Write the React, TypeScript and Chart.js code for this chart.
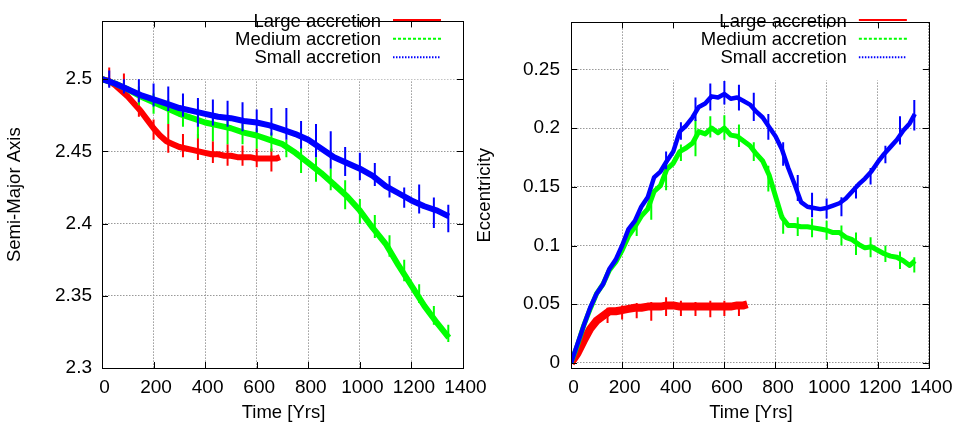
import React, { useEffect, useRef } from "react";
import { Chart, registerables } from "chart.js";

Chart.register(...registerables);

// ---------- data ----------
const timeLarge = [0, 25, 50, 75, 100, 125, 150, 175, 200, 225, 250, 275, 300, 325, 350, 375, 400, 425, 450, 475, 500, 525, 550, 575, 600, 625, 650, 675, 690];
const timeLong = [0, 50, 100, 150, 200, 250, 300, 350, 400, 450, 500, 550, 600, 650, 700, 750, 800, 850, 900, 950, 1000, 1050, 1100, 1150, 1200, 1250, 1300, 1345];
const timeEcc = [0, 25, 50, 75, 100, 125, 150, 175, 200, 225, 250, 275, 300, 325, 350, 375, 400, 425, 450, 475, 500, 525, 550, 575, 600, 625, 650, 675, 700, 725, 750, 775, 800, 825, 850, 875, 900, 925, 950, 975, 1000, 1025, 1050, 1075, 1100, 1125, 1150, 1175, 1200, 1225, 1250, 1275, 1300, 1325, 1345];

// Semi-major axis
const axisLarge = [2.5, 2.499, 2.496, 2.492, 2.488, 2.483, 2.478, 2.472, 2.466, 2.461, 2.457, 2.455, 2.453, 2.452, 2.451, 2.45, 2.449, 2.448, 2.448, 2.447, 2.447, 2.446, 2.446, 2.446, 2.445, 2.445, 2.445, 2.445, 2.446];
const axisMedium = [2.5, 2.497, 2.493, 2.488, 2.484, 2.48, 2.476, 2.473, 2.47, 2.468, 2.466, 2.463, 2.461, 2.458, 2.455, 2.449, 2.442, 2.435, 2.427, 2.419, 2.409, 2.397, 2.386, 2.371, 2.357, 2.343, 2.331, 2.321];
const axisSmall = [2.5, 2.497, 2.493, 2.489, 2.486, 2.483, 2.48, 2.478, 2.476, 2.474, 2.473, 2.471, 2.47, 2.468, 2.465, 2.462, 2.458, 2.452, 2.446, 2.442, 2.438, 2.433, 2.426, 2.421, 2.416, 2.412, 2.409, 2.405];

// spikes: [time, low, high]
const axisLargeSpikes = [
  [28, 2.495, 2.508], [85, 2.489, 2.504], [143, 2.474, 2.488], [200, 2.458, 2.472],
  [257, 2.449, 2.469], [314, 2.446, 2.462], [372, 2.444, 2.462], [430, 2.442, 2.457],
  [487, 2.44, 2.455], [545, 2.44, 2.454], [600, 2.439, 2.452], [657, 2.436, 2.452],
];
const axisMediumSpikes = [
  [143, 2.482, 2.495], [200, 2.476, 2.49], [257, 2.469, 2.486], [314, 2.467, 2.482],
  [372, 2.459, 2.479], [430, 2.457, 2.474], [487, 2.455, 2.471], [545, 2.455, 2.469],
  [600, 2.452, 2.466], [657, 2.45, 2.463], [715, 2.446, 2.458], [772, 2.435, 2.453],
  [830, 2.429, 2.446], [887, 2.423, 2.438], [943, 2.41, 2.43], [1000, 2.4, 2.417],
  [1058, 2.39, 2.406], [1115, 2.377, 2.392], [1172, 2.36, 2.375], [1230, 2.345, 2.358],
  [1287, 2.33, 2.343], [1343, 2.318, 2.33],
];
const axisSmallSpikes = [
  [28, 2.494, 2.506], [85, 2.49, 2.5], [143, 2.484, 2.5], [200, 2.481, 2.497],
  [257, 2.478, 2.495], [314, 2.474, 2.49], [372, 2.467, 2.487], [430, 2.468, 2.486],
  [487, 2.467, 2.485], [545, 2.464, 2.484], [600, 2.463, 2.479], [657, 2.461, 2.48],
  [715, 2.458, 2.48], [772, 2.452, 2.471], [830, 2.446, 2.469], [887, 2.438, 2.464],
  [943, 2.433, 2.453], [1000, 2.43, 2.449], [1058, 2.426, 2.442], [1115, 2.418, 2.433],
  [1172, 2.411, 2.425], [1230, 2.407, 2.427], [1287, 2.397, 2.418], [1343, 2.394, 2.413],
];

// Eccentricity
const eccLarge = [0, 0.008, 0.019, 0.029, 0.036, 0.04, 0.044, 0.044, 0.045, 0.046, 0.047, 0.047, 0.048, 0.048, 0.048, 0.049, 0.049, 0.048, 0.048, 0.048, 0.048, 0.048, 0.048, 0.048, 0.048, 0.048, 0.049, 0.049, 0.05];
const eccMedium = [0, 0.015, 0.032, 0.046, 0.059, 0.067, 0.079, 0.086, 0.096, 0.108, 0.116, 0.125, 0.131, 0.146, 0.151, 0.165, 0.17, 0.18, 0.183, 0.187, 0.197, 0.195, 0.2, 0.196, 0.2, 0.194, 0.193, 0.189, 0.185, 0.178, 0.172, 0.16, 0.142, 0.124, 0.117, 0.117, 0.116, 0.116, 0.115, 0.114, 0.113, 0.111, 0.111, 0.107, 0.105, 0.101, 0.098, 0.099, 0.096, 0.093, 0.091, 0.09, 0.087, 0.083, 0.087];
const eccSmall = [0, 0.016, 0.032, 0.047, 0.059, 0.067, 0.08, 0.088, 0.1, 0.114, 0.121, 0.133, 0.141, 0.158, 0.163, 0.172, 0.18, 0.197, 0.202, 0.209, 0.218, 0.221, 0.227, 0.226, 0.229, 0.225, 0.226, 0.223, 0.22, 0.214, 0.209, 0.201, 0.193, 0.182, 0.166, 0.152, 0.137, 0.133, 0.132, 0.131, 0.132, 0.134, 0.136, 0.14, 0.146, 0.152, 0.157, 0.163, 0.171, 0.178, 0.184, 0.19, 0.198, 0.204, 0.212];

const eccLargeSpikes = [
  [143, 0.034, 0.047], [200, 0.037, 0.049], [257, 0.038, 0.051], [314, 0.036, 0.052],
  [372, 0.04, 0.056], [430, 0.04, 0.053], [487, 0.04, 0.052], [545, 0.039, 0.053],
  [600, 0.04, 0.053], [657, 0.04, 0.052],
];
const eccMediumSpikes = [
  [257, 0.108, 0.122], [314, 0.122, 0.137], [372, 0.147, 0.172], [430, 0.172, 0.186],
  [487, 0.176, 0.207], [545, 0.192, 0.21], [600, 0.19, 0.211], [657, 0.184, 0.203],
  [715, 0.172, 0.188], [772, 0.146, 0.168], [830, 0.11, 0.126], [887, 0.108, 0.124],
  [943, 0.107, 0.123], [1000, 0.105, 0.121], [1058, 0.1, 0.117], [1115, 0.092, 0.111],
  [1172, 0.09, 0.107], [1230, 0.086, 0.1], [1287, 0.08, 0.095], [1343, 0.077, 0.09],
];
const eccSmallSpikes = [
  [372, 0.165, 0.18], [430, 0.19, 0.205], [487, 0.206, 0.226], [545, 0.215, 0.238],
  [600, 0.22, 0.24], [657, 0.215, 0.237], [715, 0.206, 0.23], [772, 0.19, 0.212],
  [830, 0.168, 0.188], [887, 0.138, 0.16], [943, 0.124, 0.145], [1000, 0.123, 0.14],
  [1058, 0.125, 0.141], [1115, 0.14, 0.152], [1172, 0.152, 0.166], [1230, 0.17, 0.185],
  [1287, 0.186, 0.21], [1343, 0.198, 0.224],
];

const seriesNames = ["Large accretion", "Medium accretion", "Small accretion"];
const seriesColors = ["#ff0000", "#00ff00", "#0000ff"];
const xTicks = [0, 200, 400, 600, 800, 1000, 1200, 1400];
const axisTicks = [2.3, 2.35, 2.4, 2.45, 2.5];
const eccTicks = [0, 0.05, 0.1, 0.15, 0.2, 0.25];
const xTitle = "Time [Yrs]";
const axisTitle = "Semi-Major Axis";
const eccTitle = "Eccentricity";

// ---------- helpers ----------
const FONT = '"Liberation Sans", Arial, Helvetica, sans-serif';

function pts(t: number[], v: number[]) {
  return t.map((x, i) => ({ x, y: v[i] }));
}
function spikePts(s: number[][]) {
  const out: any[] = [];
  s.forEach(([x, lo, hi]) => {
    out.push({ x, y: lo }, { x, y: hi }, { x, y: null });
  });
  return out;
}

const gnuplotFrame = {
  id: "gnuplotFrame",
  beforeDatasetsDraw(chart: any, _args: any, opts: any) {
    const { ctx, chartArea: a } = chart;
    const textRight = a.right - opts.legendOffset;
    ctx.save();
    ctx.fillStyle = "#ffffff";
    ctx.fillRect(textRight - 178, a.top + 1, 254, 57);
    ctx.restore();
  },
  afterDraw(chart: any, _args: any, opts: any) {
    const { ctx, chartArea: a } = chart;
    const xs = chart.scales.x;
    const ys = chart.scales.y;
    ctx.save();
    // frame
    ctx.strokeStyle = "#000";
    ctx.lineWidth = 1;
    ctx.setLineDash([]);
    ctx.strokeRect(Math.round(a.left) + 0.5, Math.round(a.top) + 0.5, Math.round(a.right - a.left), Math.round(a.bottom - a.top));
    // inward ticks
    ctx.beginPath();
    xTicks.forEach((v) => {
      const px = Math.round(xs.getPixelForValue(v)) + 0.5;
      ctx.moveTo(px, a.bottom);
      ctx.lineTo(px, a.bottom - 6);
      ctx.moveTo(px, a.top);
      ctx.lineTo(px, a.top + 6);
    });
    (opts.yTicks as number[]).forEach((v) => {
      const py = Math.round(ys.getPixelForValue(v)) + 0.5;
      ctx.moveTo(a.left, py);
      ctx.lineTo(a.left + 6, py);
      ctx.moveTo(a.right, py);
      ctx.lineTo(a.right - 6, py);
    });
    ctx.stroke();

    // legend
    ctx.font = `18.5px ${FONT}`;
    ctx.fillStyle = "#000";
    ctx.textAlign = "right";
    ctx.textBaseline = "alphabetic";
    const textRight = a.right - opts.legendOffset;
    const baselines = [26.7, 45, 63.3];
    const lines = [20, 38.7, 57.3];
    const dashes = [[], [3, 2], [1.5, 1.5]];
    seriesNames.forEach((name, i) => {
      ctx.fillText(name, textRight, baselines[i]);
      ctx.strokeStyle = seriesColors[i];
      ctx.lineWidth = 2;
      ctx.setLineDash(dashes[i]);
      ctx.beginPath();
      ctx.moveTo(textRight + 12, lines[i]);
      ctx.lineTo(textRight + 60, lines[i]);
      ctx.stroke();
    });
    ctx.setLineDash([]);

    // axis titles
    ctx.textAlign = "center";
    ctx.textBaseline = "middle";
    ctx.fillStyle = "#000";
    ctx.fillText(xTitle, (a.left + a.right) / 2 + 1, 413);
    ctx.translate(opts.yTitleX, (a.top + a.bottom) / 2);
    ctx.rotate(-Math.PI / 2);
    ctx.fillText(opts.yTitle, 0, 0);
    ctx.restore();
  },
};

function makeConfig(p: {
  sets: { main: any[]; spikes: any[] }[];
  widths: number[];
  yMin: number;
  yMax: number;
  yTicks: number[];
  yWidth: number;
  padRight: number;
  yTitle: string;
  yTitleX: number;
  tickPad: number;
}): any {
  const datasets: any[] = [];
  // Small drawn last (on top): Chart.js draws dataset index 0 last
  [2, 1, 0].forEach((i) => {
    datasets.push({
      data: p.sets[i].spikes,
      borderColor: seriesColors[i],
      borderWidth: 2,
      pointRadius: 0,
      spanGaps: false,
      fill: false,
    });
    datasets.push({
      data: p.sets[i].main,
      borderColor: seriesColors[i],
      borderWidth: p.widths[i],
      borderJoinStyle: "round",
      borderCapStyle: "butt",
      pointRadius: 0,
      tension: 0,
      fill: false,
    });
  });
  const font = { family: FONT, size: 19 };
  return {
    type: "line",
    data: { datasets },
    plugins: [gnuplotFrame],
    options: {
      animation: false,
      responsive: false,
      devicePixelRatio: 1,
      layout: { padding: { top: 7, right: p.padRight, left: 0, bottom: 0 } },
      plugins: {
        legend: { display: false },
        tooltip: { enabled: false },
        gnuplotFrame: { yTicks: p.yTicks, legendOffset: 82, yTitle: p.yTitle, yTitleX: p.yTitleX },
      },
      scales: {
        x: {
          type: "linear",
          min: 0,
          max: 1400,
          afterBuildTicks: (s: any) => {
            s.ticks = xTicks.map((v) => ({ value: v }));
          },
          afterFit: (s: any) => {
            s.height = 58;
          },
          ticks: { autoSkip: false, maxRotation: 0, padding: 8, labelOffset: 2.5, color: "#000", font, callback: (v: any) => String(v) },
          grid: { color: "#999999", lineWidth: 1, drawTicks: false },
          border: { display: false, dash: [1.5, 1.5] },
        },
        y: {
          type: "linear",
          min: p.yMin,
          max: p.yMax,
          afterBuildTicks: (s: any) => {
            s.ticks = p.yTicks.map((v) => ({ value: v }));
          },
          afterFit: (s: any) => {
            s.width = p.yWidth;
          },
          ticks: { autoSkip: false, padding: p.tickPad, color: "#000", font, callback: (v: any) => String(v) },
          grid: { color: "#999999", lineWidth: 1, drawTicks: false },
          border: { display: false, dash: [1.5, 1.5] },
        },
      },
    },
  };
}

function ChartCanvas({ build }: { build: () => any }) {
  const ref = useRef<HTMLCanvasElement | null>(null);
  useEffect(() => {
    const c = new Chart(ref.current as HTMLCanvasElement, build());
    return () => c.destroy();
  }, []);
  return (
    <canvas
      ref={ref}
      width={958}
      height={426}
      style={{ position: "absolute", left: 0, top: 0, width: 958, height: 426 }}
    />
  );
}

const buildLeft = () =>
  makeConfig({
    sets: [
      { main: pts(timeLarge, axisLarge), spikes: spikePts(axisLargeSpikes) },
      { main: pts(timeLong, axisMedium), spikes: spikePts(axisMediumSpikes) },
      { main: pts(timeLong, axisSmall), spikes: spikePts(axisSmallSpikes) },
    ],
    widths: [6, 6, 6],
    yMin: 2.3,
    yMax: 2.54,
    yTicks: axisTicks,
    yWidth: 102,
    padRight: 958 - 463,
    yTitle: axisTitle,
    yTitleX: 15,
    tickPad: 10,
  });

const buildRight = () =>
  makeConfig({
    sets: [
      { main: pts(timeLarge, eccLarge), spikes: spikePts(eccLargeSpikes) },
      { main: pts(timeEcc, eccMedium), spikes: spikePts(eccMediumSpikes) },
      { main: pts(timeEcc, eccSmall), spikes: spikePts(eccSmallSpikes) },
    ],
    widths: [8, 5, 4.5],
    yMin: -0.0043,
    yMax: 0.29,
    yTicks: eccTicks,
    yWidth: 571,
    padRight: 26,
    yTitle: eccTitle,
    yTitleX: 485,
    tickPad: 11,
  });

export default function App() {
  return (
    <div style={{ position: "fixed", left: 0, top: 0, width: 958, height: 426, background: "#ffffff" }}>
      <ChartCanvas build={buildLeft} />
      <ChartCanvas build={buildRight} />
    </div>
  );
}
